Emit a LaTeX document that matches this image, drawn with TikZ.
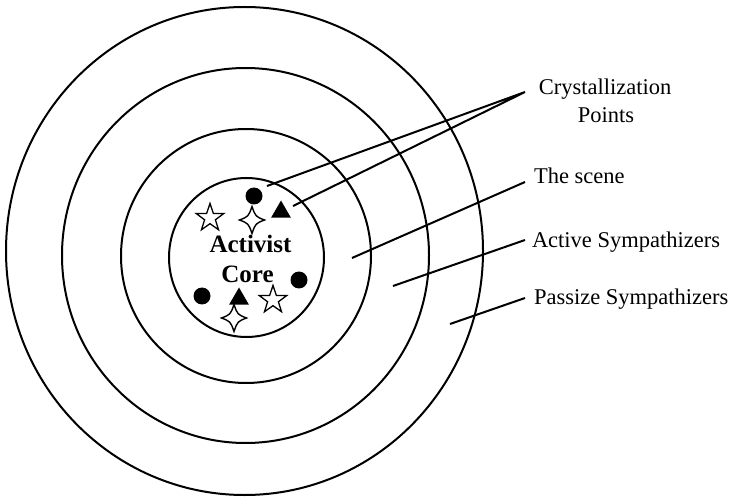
\documentclass[tikz,border=0pt]{standalone}
\usepackage{fontspec}
\setmainfont{Liberation Serif}
\usetikzlibrary{shapes.geometric}
\begin{document}
\begin{tikzpicture}[x=1pt,y=-1pt,line width=2pt,
  ring/.style={draw,ellipse,inner sep=0pt,outer sep=0pt},
  dot/.style={circle,fill=black,inner sep=0pt,minimum size=17pt},
  tri/.style={regular polygon,regular polygon sides=3,fill=black,inner sep=0pt,minimum size=23pt},
  fivestar/.style={star,star points=5,star point ratio=2.55,draw,line width=1.3pt,fill=white,inner sep=0pt,minimum size=29pt},
  fourstar/.pic={\draw[line width=1.4pt,fill=white] (0,-13.5) .. controls (3.5,-3.5) .. (12.5,0) .. controls (3.5,3.5) .. (0,13.5) .. controls (-3.5,3.5) .. (-12.5,0) .. controls (-3.5,-3.5) .. cycle;},
  lbl/.style={font=\fontsize{22.5}{27}\selectfont,inner sep=0pt},
  core/.style={font=\fontsize{25}{29}\selectfont\bfseries,inner sep=0pt},
  leader/.style={line width=2pt}]
\useasboundingbox (0,0) rectangle (734,497);
% rings
\node[ring,minimum width=477pt,minimum height=488pt] (passive) at (244.5,251) {};
\node[ring,minimum width=367pt,minimum height=375pt] (active) at (245.5,255.5) {};
\node[ring,minimum width=250pt,minimum height=254pt] (scene) at (246,256) {};
\node[ring,minimum width=155pt,minimum height=159pt] (corering) at (246.5,257.5) {};
% core text
\node[core,anchor=base] (act) at (250.5,253) {Activist};
\node[core,anchor=base] (cor) at (247.5,283) {Core};
% symbols
\node[dot] (d1) at (254,196) {};
\node[dot] (d2) at (299,280) {};
\node[dot] (d3) at (202,296) {};
\node[tri] (t1) at (281,212) {};
\node[tri] (t2) at (239,299) {};
\node[fivestar] (s1) at (210,218) {};
\node[fivestar] (s2) at (273,300) {};
\pic (f1) at (252,220) {fourstar};
\pic (f2) at (234,318) {fourstar};
% labels
\node[lbl,anchor=base] (cp1) at (605,95) {Crystallization};
\node[lbl,anchor=base] (cp2) at (606,123) {Points};
\node[lbl,anchor=base west] (lscene) at (533,184) {The scene};
\node[lbl,anchor=base west] (lactive) at (531,248) {Active Sympathizers};
\node[lbl,anchor=base west] (lpassive) at (533,305) {Passize Sympathizers};
% leader coordinates
\coordinate (apex) at (525,92);
\coordinate (c1) at (267,186);
\coordinate (c2) at (293,206);
\coordinate (e3) at (525,182);
\coordinate (b3) at (352,258);
\coordinate (e4) at (525,240);
\coordinate (b4) at (393,286);
\coordinate (e5) at (525,298);
\coordinate (b5) at (450,324);
\draw[leader] (c1) -- (apex) -- (c2);
\draw[leader] (b3) -- (e3);
\draw[leader] (b4) -- (e4);
\draw[leader] (b5) -- (e5);
\end{tikzpicture}
\end{document}
